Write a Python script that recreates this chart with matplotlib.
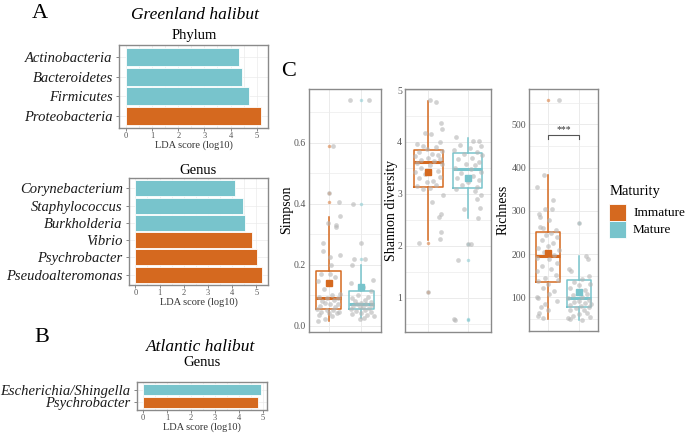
import matplotlib
matplotlib.use("Agg")
import matplotlib.pyplot as plt
from matplotlib.patches import Rectangle

plt.rcParams["font.family"] = ["Liberation Serif", "DejaVu Serif"]

ORANGE = "#D5691F"
TEAL = "#78C4CC"
GRID = "#EBEBEB"
BORDER = "#8A8A8A"
TICK = "#555555"

W, H = 685, 433

# ---- LDA data (panel A and B) ----
phylum_names = ["Actinobacteria", "Bacteroidetes", "Firmicutes", "Proteobacteria"]
phylum_lda = [4.34, 4.42, 4.70, 5.17]
phylum_group = ["Mature", "Mature", "Mature", "Immature"]

genus_names = ["Corynebacterium", "Staphylococcus", "Burkholderia",
               "Vibrio", "Psychrobacter", "Pseudoalteromonas"]
genus_lda = [4.11, 4.46, 4.54, 4.80, 5.03, 5.22]
genus_group = ["Mature", "Mature", "Mature", "Immature", "Immature", "Immature"]

atl_names = ["Escherichia/Shingella", "Psychrobacter"]
atl_lda = [4.92, 4.81]
atl_group = ["Mature", "Immature"]

# ---- alpha diversity (panel C): box stats and jittered samples ----
groups = ["Immature", "Mature"]

simpson_box = {
    "Immature": dict(whislo=0.015, q1=0.055, med=0.09, q3=0.18, whishi=0.355, mean=0.14),
    "Mature": dict(whislo=0.025, q1=0.055, med=0.072, q3=0.115, whishi=0.20, mean=0.128),
}
simpson_out = {"Immature": [0.59, 0.435, 0.405], "Mature": [0.74, 0.40, 0.22]}
simpson_imm = [0.59, 0.435, 0.405, 0.36, 0.335, 0.33, 0.325, 0.27, 0.245, 0.225, 0.23, 0.20,
               0.17, 0.17, 0.16, 0.145, 0.12, 0.105, 0.10, 0.095, 0.09, 0.09, 0.085, 0.08,
               0.075, 0.07, 0.07, 0.065, 0.06, 0.055, 0.05, 0.05, 0.045, 0.045, 0.04, 0.04,
               0.035, 0.03, 0.02, 0.015]
simpson_imm_dx = [0.14, 0.02, 0.32, 0.34, -0.03, 0.22, 0.24, -0.18, -0.18, 0.04, 0.36, 0.06,
                  -0.23, 0.04, 0.19, -0.33, -0.13, 0.34, 0.10, -0.30, -0.05, 0.28, 0.15, -0.20,
                  -0.10, 0.05, 0.30, -0.25, 0.20, -0.35, 0.12, -0.05, 0.33, -0.22, 0.0, 0.25,
                  -0.30, 0.10, -0.12, -0.32]
simpson_mat = [0.74, 0.74, 0.40, 0.27, 0.22, 0.22, 0.20, 0.15, 0.14, 0.125, 0.115, 0.10,
               0.095, 0.09, 0.085, 0.08, 0.078, 0.075, 0.072, 0.07, 0.068, 0.065, 0.062, 0.06,
               0.058, 0.055, 0.05, 0.048, 0.045, 0.04, 0.038, 0.035, 0.03, 0.025, 0.02]
simpson_mat_dx = [-0.35, 0.22, -0.27, 0.0, -0.22, 0.12, -0.28, 0.37, -0.32, 0.05, 0.30, -0.10,
                  0.20, -0.30, 0.10, -0.20, 0.28, 0.0, -0.12, 0.15, 0.33, -0.25, 0.05, -0.05,
                  0.22, -0.33, 0.12, -0.15, 0.30, 0.0, -0.28, 0.18, 0.38, 0.08, -0.05]

shannon_box = {
    "Immature": dict(whislo=2.12, q1=3.14, med=3.61, q3=3.85, whishi=4.79, mean=3.43),
    "Mature": dict(whislo=2.54, q1=3.12, med=3.48, q3=3.79, whishi=4.08, mean=3.30),
}
shannon_out = {"Immature": [2.05, 1.12], "Mature": [2.03, 1.72, 0.60, 0.57]}
shannon_imm = [4.81, 4.76, 4.36, 4.25, 4.17, 4.15, 3.99, 3.96, 3.93, 3.90, 3.87, 3.82, 3.80,
               3.77, 3.74, 3.72, 3.70, 3.68, 3.66, 3.63, 3.60, 3.58, 3.55, 3.50, 3.45, 3.42,
               3.38, 3.33, 3.30, 3.25, 3.22, 3.18, 3.15, 3.12, 3.10, 2.97, 2.84, 2.62, 2.55,
               2.27, 2.14, 2.05, 1.12]
shannon_imm_dx = [0.05, 0.20, 0.32, 0.34, -0.08, 0.06, 0.30, -0.30, -0.15, 0.20, -0.05, 0.35,
                  -0.25, 0.10, 0.25, -0.35, 0.0, 0.30, -0.18, 0.15, -0.30, 0.35, 0.05, -0.20,
                  0.25, -0.35, -0.10, 0.30, -0.25, 0.12, -0.05, 0.20, -0.30, 0.05, -0.15, 0.37,
                  0.08, 0.33, 0.28, 0.32, 0.30, -0.25, 0.0]
shannon_mat = [4.09, 4.01, 4.02, 3.95, 3.92, 3.88, 3.85, 3.80, 3.77, 3.74, 3.70, 3.67, 3.62,
               3.58, 3.55, 3.50, 3.47, 3.43, 3.40, 3.35, 3.30, 3.27, 3.22, 3.18, 3.13, 3.10,
               3.05, 2.97, 2.90, 2.73, 2.70, 2.54, 2.03, 2.04, 1.72, 0.60, 0.57]
shannon_mat_dx = [-0.30, 0.15, 0.30, -0.20, 0.35, 0.05, -0.35, 0.25, -0.10, 0.38, 0.12, -0.25,
                  0.30, -0.05, 0.20, -0.32, 0.08, 0.35, -0.18, 0.15, -0.28, 0.30, 0.0, -0.15,
                  0.25, -0.30, 0.20, 0.35, 0.25, 0.32, -0.10, 0.27, 0.10, 0.0, -0.25, -0.35,
                  -0.33]

richness_box = {
    "Immature": dict(whislo=51, q1=136, med=196, q3=251, whishi=383, mean=203),
    "Mature": dict(whislo=49, q1=78, med=98, q3=140, whishi=195, mean=113),
}
richness_out = {"Immature": [556], "Mature": [271]}
richness_imm = [556, 383, 354, 325, 305, 305, 293, 285, 278, 262, 260, 255, 248, 245, 240, 232,
                225, 220, 215, 210, 205, 198, 192, 188, 180, 172, 165, 160, 152, 145, 140, 138,
                130, 122, 115, 108, 100, 98, 92, 85, 78, 72, 65, 58, 52]
richness_imm_dx = [0.35, -0.12, -0.33, 0.15, -0.10, 0.12, -0.28, -0.25, 0.05, -0.25, -0.15, 0.25,
                   0.10, -0.05, 0.30, -0.20, 0.15, 0.0, -0.30, 0.35, -0.12, 0.20, -0.35, 0.05,
                   0.30, -0.20, 0.10, -0.35, 0.25, -0.10, 0.32, -0.30, 0.0, -0.15, 0.20, 0.05,
                   -0.35, -0.30, 0.28, -0.10, -0.22, 0.0, -0.28, -0.32, -0.15]
richness_mat = [271, 195, 190, 165, 162, 150, 142, 135, 130, 128, 122, 118, 112, 108, 105, 100,
                98, 95, 92, 90, 88, 85, 82, 80, 78, 75, 72, 70, 65, 62, 58, 55, 52, 50, 48]
richness_mat_dx = [0.0, 0.22, 0.28, -0.32, -0.25, 0.30, 0.10, -0.15, 0.35, 0.0, -0.30, 0.20,
                   -0.05, 0.25, -0.20, 0.10, -0.35, 0.32, 0.0, -0.15, 0.20, 0.38, -0.28, 0.05,
                   0.30, -0.10, 0.15, -0.30, 0.25, 0.0, -0.20, 0.35, -0.35, -0.30, 0.10]

COLORS = {"Immature": ORANGE, "Mature": TEAL}

fig = plt.figure(figsize=(W / 100, H / 100), dpi=100)


def px_axes(left, top, right, bottom):
    return fig.add_axes([left / W, 1 - bottom / H, (right - left) / W, (bottom - top) / H])


def px_text(x, y, s, **kw):
    fig.text(x / W, 1 - y / H, s, **kw)


def style_frame(ax):
    for sp in ax.spines.values():
        sp.set_color(BORDER)
        sp.set_linewidth(1.0)
    ax.set_axisbelow(True)


def lda_panel(ax, names, values, grp, xmax):
    y = list(range(len(names)))[::-1]
    ax.barh(y, values, height=0.92, color=[COLORS[g] for g in grp],
            edgecolor="white", linewidth=0.6)
    ax.set_yticks(y)
    ax.set_yticklabels(names, style="italic", fontsize=10.5, color="#1a1a1a")
    ax.set_ylim(-0.6, len(names) - 0.4)
    ax.set_xlim(-xmax * 0.05, xmax * 1.05)
    ax.set_xticks(range(6))
    ax.set_xticks([0.5, 1.5, 2.5, 3.5, 4.5], minor=True)
    ax.tick_params(axis="x", labelsize=6, colors=TICK, length=2, width=0.5, pad=1)
    ax.tick_params(axis="x", which="minor", length=0)
    ax.tick_params(axis="y", length=2.5, width=0.5, colors=TICK, labelcolor="#1a1a1a", pad=2)
    ax.grid(True, which="both", color=GRID, linewidth=0.5)
    ax.set_xlabel("LDA score (log10)", fontsize=7.5, labelpad=0, color="#333333")
    style_frame(ax)


# Panel A / B
ax1 = px_axes(119, 45, 268, 128)
lda_panel(ax1, phylum_names, phylum_lda, phylum_group, max(phylum_lda))
ax2 = px_axes(129, 178, 268, 285)
lda_panel(ax2, genus_names, genus_lda, genus_group, max(genus_lda))
ax3 = px_axes(137, 382, 267, 410)
lda_panel(ax3, atl_names, atl_lda, atl_group, max(atl_lda))

px_text(40, 13, "A", fontsize=16, ha="center", va="center")
px_text(195, 15, "Greenland halibut", fontsize=12.5, style="italic", ha="center", va="center")
px_text(194, 35, "Phylum", fontsize=10.5, ha="center", va="center")
px_text(198, 171, "Genus", fontsize=10.5, ha="center", va="center")
px_text(42, 338, "B", fontsize=16, ha="center", va="center")
px_text(201, 347, "Atlantic halibut", fontsize=12.5, style="italic", ha="center", va="center")
px_text(202, 363, "Genus", fontsize=10.5, ha="center", va="center")
px_text(289, 72, "C", fontsize=16, ha="center", va="center")


def alpha_panel(ax, box, outl, samples, ylim, yticks, ylabels, minor):
    ax.set_xlim(0.4, 2.6)
    ax.set_ylim(*ylim)
    ax.set_xticks([1, 2])
    ax.set_xticklabels([])
    ax.set_yticks(yticks)
    ax.set_yticklabels(ylabels)
    ax.set_yticks(minor, minor=True)
    ax.grid(True, which="major", color=GRID, linewidth=0.7)
    ax.grid(True, which="minor", axis="y", color=GRID, linewidth=0.5)
    ax.tick_params(axis="both", which="both", length=0)
    ax.tick_params(axis="y", labelsize=7, colors=TICK, pad=2)
    style_frame(ax)
    for i, g in enumerate(groups):
        pos = i + 1
        c = COLORS[g]
        st = dict(box[g])
        mean = st.pop("mean")
        st["fliers"] = []
        ax.bxp([st], positions=[pos], widths=0.75, showfliers=False, showcaps=False,
               boxprops=dict(color=c, linewidth=1.1),
               whiskerprops=dict(color=c, linewidth=1.1),
               medianprops=dict(color=c, linewidth=2.2, solid_capstyle="butt"),
               manage_ticks=False)
        ax.plot([pos] * len(outl[g]), outl[g], "o", color=c, alpha=0.5,
                markersize=2.5, markeredgewidth=0, zorder=3)
        vals, dx = samples[g]
        ax.plot([pos + d for d in dx], vals, "o", color="#B5B5B5", alpha=0.6,
                markersize=3.4, markeredgewidth=0, zorder=4)
        ax.plot([pos], [mean], "s", color=c, markersize=5, zorder=5)


ax4 = px_axes(309, 89, 381, 332)
alpha_panel(ax4, simpson_box, simpson_out,
            {"Immature": (simpson_imm, simpson_imm_dx), "Mature": (simpson_mat, simpson_mat_dx)},
            (-0.021, 0.776), [0.0, 0.2, 0.4, 0.6], ["0.0", "0.2", "0.4", "0.6"],
            [0.1, 0.3, 0.5, 0.7])

ax5 = px_axes(405, 89, 491, 332)
alpha_panel(ax5, shannon_box, shannon_out,
            {"Immature": (shannon_imm, shannon_imm_dx), "Mature": (shannon_mat, shannon_mat_dx)},
            (0.34, 5.02), [1, 2, 3, 4, 5], ["1", "2", "3", "4", "5"],
            [0.5, 1.5, 2.5, 3.5, 4.5])

ax6 = px_axes(529, 89, 598, 331)
alpha_panel(ax6, richness_box, richness_out,
            {"Immature": (richness_imm, richness_imm_dx), "Mature": (richness_mat, richness_mat_dx)},
            (22.6, 581.4), [100, 200, 300, 400, 500], ["100", "200", "300", "400", "500"],
            [50, 150, 250, 350, 450, 550])

# y-axis titles of panel C
px_text(287, 210, "Simpson", fontsize=10, rotation=90, ha="center", va="center")
px_text(391, 210, "Shannon diversity", fontsize=10, rotation=90, ha="center", va="center")
px_text(503, 210, "Richness", fontsize=10, rotation=90, ha="center", va="center")

# significance bracket
ax6.plot([1, 1, 2, 2], [466, 475, 475, 466], color="#555555", linewidth=0.8)
ax6.text(1.5, 477, "***", ha="center", va="bottom", fontsize=7, color="#333333")

# legend
px_text(610, 192, "Maturity", fontsize=10.5, ha="left", va="center")
for k, g in enumerate(groups):
    top = 204 + k * 17.3
    fig.patches.append(Rectangle((609 / W, 1 - (top + 16.5) / H), 17 / W, 16.5 / H,
                                 transform=fig.transFigure, facecolor=COLORS[g],
                                 edgecolor="white", linewidth=0.6))
    px_text(633, top + 9, g, fontsize=9.5, ha="left", va="center")

fig.savefig("out.png", dpi=100)
